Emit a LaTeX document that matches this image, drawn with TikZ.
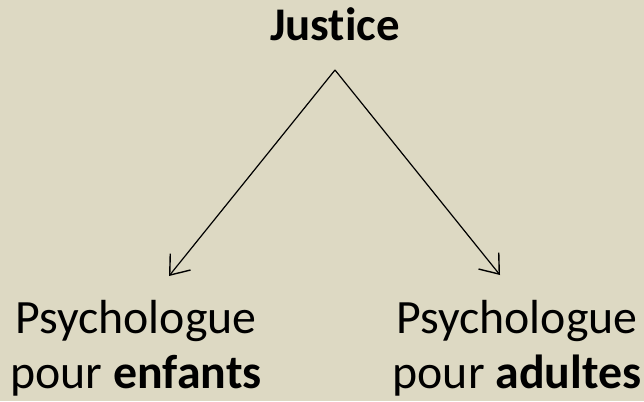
\documentclass[tikz,border=0pt]{standalone}
\usepackage{fontspec}
\setmainfont[Ligatures={NoCommon}]{Carlito}
\usetikzlibrary{arrows.meta}
\definecolor{tan}{RGB}{221, 217, 195}

\begin{document}
\begin{tikzpicture}[x=1bp, y=-1bp, line width=1.2bp,
  label/.style={font=\fontsize{48}{55}\selectfont, align=center, inner sep=0pt},
  branch/.style={-{Straight Barb[length=17bp, width=26bp, line width=1.4bp]}}]

  \fill[color=tan] (0, 0) rectangle (644, 401);
  \useasboundingbox (0, 0) rectangle (644, 401);

  \node[label, anchor=base, font=\fontsize{47}{55}\selectfont\bfseries] (justice) at (335, 40) {Justice};
  \coordinate (apex) at (335, 70);

  \node[label, anchor=base] (enfants) at (136, 388) {Psychologue\\pour \textbf{enfants}};
  \node[label, anchor=base] (adultes) at (517, 388) {Psychologue\\pour \textbf{adultes}};

  \coordinate (tipL) at (169, 276);
  \coordinate (tipR) at (500, 275);
  \draw[branch] (apex) -- (tipL);
  \draw[branch] (apex) -- (tipR);

\end{tikzpicture}
\end{document}
